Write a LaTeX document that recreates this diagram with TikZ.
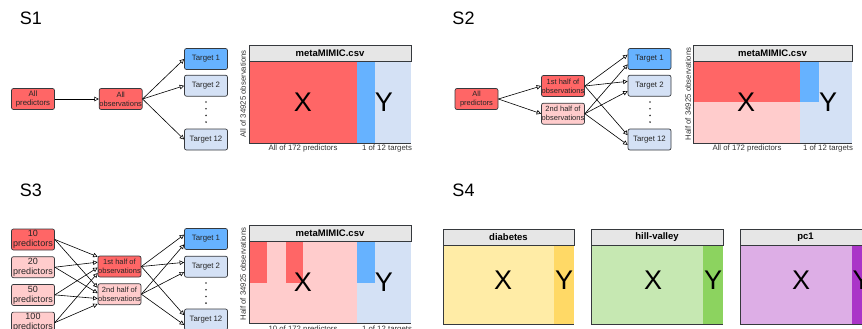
\documentclass[tikz,border=0pt]{standalone}
\usepackage{fontspec}
\setmainfont{Liberation Sans}
\usetikzlibrary{positioning, calc, arrows.meta}

\definecolor{boxred}{HTML}{FF6666}
\definecolor{boxpink}{HTML}{FFCCCC}
\definecolor{tgtblue}{HTML}{66B2FF}
\definecolor{tgtlight}{HTML}{D4E1F5}
\definecolor{headgray}{HTML}{E6E6E6}
\definecolor{edgegray}{HTML}{36393D}
\definecolor{ylight}{HTML}{FFECA6}
\definecolor{ydark}{HTML}{FFD966}
\definecolor{glight}{HTML}{C6E8B2}
\definecolor{gdark}{HTML}{8CD35F}
\definecolor{plight}{HTML}{DDAEE6}
\definecolor{pdark}{HTML}{AA35C8}

\tikzstyle{base} = [minimum width=43pt, minimum height=21pt, inner sep=0pt, align=center, draw=edgegray, rounded corners=2pt, line width=0.7pt, text=black!85, font=\fontsize{7.5}{9}\selectfont]
\tikzstyle{selbox} = [base, fill=boxred]
\tikzstyle{unselbox} = [base, fill=boxpink]
\tikzstyle{predbox} = [base, font=\fontsize{9}{10}\selectfont]
\tikzstyle{target} = [base, fill=tgtlight, font=\fontsize{7.8}{8}\selectfont]
\tikzstyle{targetsel} = [target, fill=tgtblue]
\tikzstyle{arrow} = [line width=0.6pt, -{Triangle[open, length=4.5pt, width=4.5pt]}]
\tikzstyle{head} = [draw=edgegray, fill=headgray, line width=0.7pt, minimum height=16pt, inner sep=0pt, font=\fontsize{9.5}{10}\selectfont\bfseries]
\tikzstyle{bigletter} = [font=\fontsize{27}{27}\selectfont]
\tikzstyle{axislabel} = [font=\fontsize{7.8}{8}\selectfont, text=black!80]
\tikzstyle{slabel} = [font=\fontsize{18}{18}\selectfont]
\tikzstyle{frame} = [draw=edgegray, line width=0.6pt]

\begin{document}
\begin{tikzpicture}[x=1pt, y=-1pt]
\useasboundingbox (0,0) rectangle (862,329);

%% S1
\node (S1_LABEL) [slabel] at (31,18.5) {S1};
\node (ALL_PREDICTORS_S1) [selbox, font=\fontsize{7.8}{9.5}\selectfont] at (33,99) {All\\predictors};
\node (ALL_OBS_S1) [selbox, right=44pt of ALL_PREDICTORS_S1] {All\\observations};
\node (TARGET_1_S1) [targetsel] at (206,59) {Target 1};
\node (TARGET_2_S1) [target, below=5pt of TARGET_1_S1] {Target 2};
\node (TARGET_12_S1) [target] at (206,139.5) {Target 12};
\foreach \k in {0,...,3}
  \fill [black!80] (206,102+6.7*\k) circle (0.9pt);

\draw [arrow] (ALL_PREDICTORS_S1) -- (ALL_OBS_S1);
\foreach \tgt in {TARGET_1_S1, TARGET_2_S1, TARGET_12_S1}
  \draw [arrow] (ALL_OBS_S1.east) -- (\tgt.west);

% table S1
\fill [boxred] (249,61) rectangle (357,143);
\fill [tgtblue] (357,61) rectangle (375,143);
\fill [tgtlight] (375,61) rectangle (411,143);
\draw [frame] (249,61) |- (411,143);
\node (HEAD_S1) [head, minimum width=162pt] at (330,53) {metaMIMIC.csv};
\node (X_S1) [bigletter] at (303,102) {X};
\node (Y_S1) [bigletter] at (384,102) {Y};
\node (ROWS_S1) [axislabel, rotate=90] at (243,94) {All of 34925 observations};
\node (COLS_S1) [axislabel] at (303,148) {All of 172 predictors};
\node (TGTS_S1) [axislabel] at (387,148) {1 of 12 targets};

%% S2
\node (S2_LABEL) [slabel] at (463.5,18.5) {S2};
\node (ALL_PREDICTORS_S2) [selbox] at (476.5,99) {All\\predictors};
\node (FIRST_HALF_S2) [selbox] at (563,86) {1st half of\\observations};
\node (SECOND_HALF_S2) [unselbox, below=6pt of FIRST_HALF_S2] {2nd half of\\observations};
\node (TARGET_1_S2) [targetsel] at (649.5,59) {Target 1};
\node (TARGET_2_S2) [target, below=5pt of TARGET_1_S2] {Target 2};
\node (TARGET_12_S2) [target] at (649.5,139.5) {Target 12};
\foreach \k in {0,...,3}
  \fill [black!80] (650,102+6.7*\k) circle (0.9pt);

\draw [arrow] (ALL_PREDICTORS_S2.east) -- (FIRST_HALF_S2.west);
\draw [arrow] (ALL_PREDICTORS_S2.east) -- (SECOND_HALF_S2.west);
\foreach \tgt in {TARGET_1_S2, TARGET_2_S2, TARGET_12_S2} {
  \draw [arrow] (FIRST_HALF_S2.east) -- ($(\tgt.north west)!0.3!(\tgt.south west)$);
  \draw [arrow] (SECOND_HALF_S2.east) -- ($(\tgt.north west)!0.75!(\tgt.south west)$);
}

% table S2
\fill [boxred] (693,61) rectangle (800,102);
\fill [boxpink] (693,102) rectangle (800,143);
\fill [tgtlight] (800,61) rectangle (852,143);
\fill [tgtblue] (800,61) rectangle (819,102);
\draw [frame] (693,61) |- (852,143);
\node (HEAD_S2) [head, minimum width=159pt] at (772.5,53) {metaMIMIC.csv};
\node (X_S2) [bigletter] at (746,102) {X};
\node (Y_S2) [bigletter] at (828,102) {Y};
\node (ROWS_S2) [axislabel, rotate=90] at (688,94) {Half of 34925 observations};
\node (COLS_S2) [axislabel] at (747,148) {All of 172 predictors};
\node (TGTS_S2) [axislabel] at (828,148) {1 of 12 targets};

%% S3
\node (S3_LABEL) [slabel] at (31,190) {S3};
\node (P10_S3) [selbox, predbox] at (33,239.5) {10\\predictors};
\node (P20_S3) [unselbox, predbox, below=6pt of P10_S3] {20\\predictors};
\node (P50_S3) [unselbox, predbox, below=6pt of P20_S3] {50\\predictors};
\node (P100_S3) [unselbox, predbox, below=6pt of P50_S3] {100\\predictors};
\node (FIRST_HALF_S3) [selbox] at (119.5,266.5) {1st half of\\observations};
\node (SECOND_HALF_S3) [unselbox, below=6pt of FIRST_HALF_S3] {2nd half of\\observations};
\node (TARGET_1_S3) [targetsel] at (206,239) {Target 1};
\node (TARGET_2_S3) [target, below=6pt of TARGET_1_S3] {Target 2};
\node (TARGET_12_S3) [target] at (206,319.5) {Target 12};
\foreach \k in {0,...,3}
  \fill [black!80] (206,283+6.7*\k) circle (0.9pt);

\foreach \src/\fa/\fb in {P10_S3/0.05/0.2, P20_S3/0.3/0.45, P50_S3/0.55/0.7, P100_S3/0.8/0.95} {
  \draw [arrow] (\src.east) -- ($(FIRST_HALF_S3.north west)!\fa!(FIRST_HALF_S3.south west)$);
  \draw [arrow] (\src.east) -- ($(SECOND_HALF_S3.north west)!\fb!(SECOND_HALF_S3.south west)$);
}
\foreach \tgt in {TARGET_1_S3, TARGET_2_S3, TARGET_12_S3} {
  \draw [arrow] (FIRST_HALF_S3.east) -- ($(\tgt.north west)!0.3!(\tgt.south west)$);
  \draw [arrow] (SECOND_HALF_S3.east) -- ($(\tgt.north west)!0.75!(\tgt.south west)$);
}

% table S3
\fill [boxpink] (249,241) rectangle (357,323);
\fill [boxred] (249,241) rectangle (267,283);
\fill [boxred] (286,241) rectangle (303,283);
\fill [tgtlight] (357,241) rectangle (411,323);
\fill [tgtblue] (357,241) rectangle (375,283);
\draw [frame] (249,241) |- (411,323);
\node (HEAD_S3) [head, minimum width=162pt] at (330,233) {metaMIMIC.csv};
\node (X_S3) [bigletter] at (303,282.5) {X};
\node (Y_S3) [bigletter] at (384,282.5) {Y};
\node (ROWS_S3) [axislabel, rotate=90] at (243,274) {Half of 34925 observations};
\node (COLS_S3) [axislabel] at (303,329) {10 of 172 predictors};
\node (TGTS_S3) [axislabel] at (387,329) {1 of 12 targets};

%% S4
\node (S4_LABEL) [slabel] at (463.5,190) {S4};
\foreach \name/\xa/\xb/\xe/\xx/\lc/\dc in {diabetes/443/554/574/503/ylight/ydark, hill-valley/591/703/723/653/glight/gdark, pc1/740/852/871/801/plight/pdark} {
  \fill [\lc] (\xa,245) rectangle (\xb,324);
  \fill [\dc] (\xb,245) rectangle (\xe,324);
  \draw [frame] (\xa,245) |- (\xe,324);
  \draw [head] (\xa,229) rectangle node [font=\fontsize{9.5}{10}\selectfont\bfseries] {\name} (\xe,245);
  \node [bigletter] at (\xx,280) {X};
  \node [bigletter] at ({(\xb+\xe)/2},280) {Y};
}

\end{tikzpicture}
\end{document}
